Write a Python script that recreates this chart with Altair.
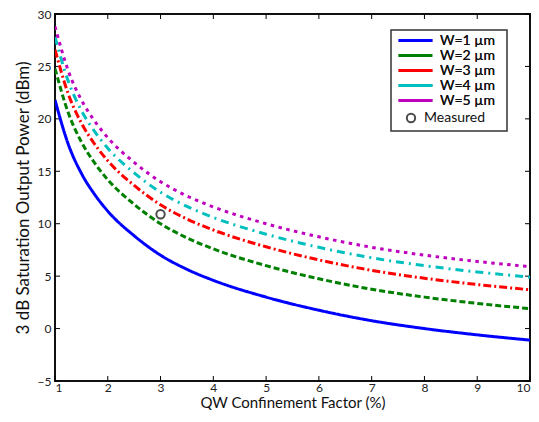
import altair as alt
import pandas as pd

x_vals = [1, 1.25, 1.5, 1.75, 2, 2.5, 3, 3.5, 4, 5, 6, 7, 8, 9, 10]
w1 = [21.8, 17.6, 14.8, 12.8, 11.2, 8.85, 7.0, 5.65, 4.6, 3.0, 1.75, 0.75, 0.0, -0.6, -1.1]
w2 = [24.8, 20.6, 17.8, 15.8, 14.2, 11.85, 10.0, 8.65, 7.6, 6.0, 4.75, 3.75, 3.0, 2.4, 1.9]
w3 = [26.6, 22.4, 19.6, 17.6, 16.0, 13.65, 11.8, 10.45, 9.4, 7.8, 6.55, 5.55, 4.8, 4.2, 3.7]
w4 = [27.8, 23.6, 20.8, 18.8, 17.2, 14.85, 13.0, 11.65, 10.6, 9.0, 7.75, 6.75, 6.0, 5.4, 4.9]
w5 = [28.8, 24.6, 21.8, 19.8, 18.2, 15.85, 14.0, 12.65, 11.6, 10.0, 8.75, 7.75, 7.0, 6.4, 5.9]

series_names = ["W=1 µm", "W=2 µm", "W=3 µm", "W=4 µm", "W=5 µm"]
series_colors = ["#0000ff", "#008000", "#ff0000", "#00bfbf", "#bf00bf"]
series_dashes = [[1, 0], [6, 3], [8, 3, 2, 3], [8, 5, 2, 5], [3.5, 4.5]]

measured_name = ["Measured"]
measured_x = [3.0]
measured_y = [10.9]

x_ticks = [1, 2, 3, 4, 5, 6, 7, 8, 9, 10]
y_ticks = [-5, 0, 5, 10, 15, 20, 25, 30]

W, H = 475, 367
FONT = "Lato"

rows = []
for name, ys in zip(series_names, [w1, w2, w3, w4, w5]):
    for xv, yv in zip(x_vals, ys):
        rows.append({"x": xv, "y": yv, "series": name})
lines_df = pd.DataFrame(rows)
meas_df = pd.DataFrame({"x": measured_x, "y": measured_y, "series": measured_name * len(measured_x)})
xt_df = pd.DataFrame({"t": x_ticks})
yt_df = pd.DataFrame({"t": y_ticks})

xscale = alt.Scale(domain=[1, 10], nice=False, zero=False)
yscale = alt.Scale(domain=[-5, 30], nice=False, zero=False)

color_scale = alt.Scale(domain=series_names, range=series_colors)
dash_scale = alt.Scale(domain=series_names, range=series_dashes)

line_legend = alt.Legend(
    title=None, orient="none", legendX=353, legendY=19,
    symbolType="M-2.83,0H2.83", symbolSize=144, symbolStrokeWidth=3,
    labelFont=FONT, labelFontSize=14, labelColor="#111111", labelFontWeight="normal",
    padding=0, rowPadding=0, labelOffset=17, symbolOffset=0,
)
shape_legend = alt.Legend(
    title=None, orient="none", legendX=349, legendY=97,
    symbolSize=70, symbolStrokeWidth=2, symbolStrokeColor="#000000",
    symbolFillColor="transparent",
    labelFont=FONT, labelFontSize=14, labelColor="#111111", labelFontWeight="normal",
    padding=0, labelOffset=6, symbolOffset=0,
)

axis_style = dict(
    tickSize=0, domain=False, grid=False,
    labelFont=FONT, labelFontSize=12, labelColor="#222222", labelFontWeight="normal",
    titleFont=FONT, titleFontWeight="normal", titleColor="#111111",
)
xaxis = alt.Axis(values=x_ticks, title="QW Confinement Factor (%)", labelPadding=1, titlePadding=2,
                 titleFontSize=15, **axis_style)
yaxis = alt.Axis(values=y_ticks, title="3 dB Saturation Output Power (dBm)", labelPadding=4, titlePadding=5,
                 titleFontSize=17, **axis_style)

lines = alt.Chart(lines_df).mark_line(strokeWidth=3, strokeCap="butt", clip=True, interpolate="monotone").encode(
    x=alt.X("x:Q", scale=xscale, axis=xaxis),
    y=alt.Y("y:Q", scale=yscale, axis=yaxis),
    color=alt.Color("series:N", scale=color_scale, legend=line_legend, sort=series_names),
    strokeDash=alt.StrokeDash("series:N", scale=dash_scale, legend=line_legend, sort=series_names),
    detail="series:N",
)

points = alt.Chart(meas_df).mark_point(size=70, strokeWidth=2, filled=False, color="#000000").encode(
    x=alt.X("x:Q", scale=xscale),
    y=alt.Y("y:Q", scale=yscale),
    shape=alt.Shape("series:N", scale=alt.Scale(domain=measured_name, range=["circle"]), legend=shape_legend),
)

legend_box = alt.Chart(meas_df).mark_rect(fill="#ffffff", stroke="#333333", strokeWidth=1.5).encode(
    x=alt.value(336), x2=alt.value(452), y=alt.value(16), y2=alt.value(117))

tick_len = 5
xb = alt.Chart(xt_df).mark_rule(color="#000000", strokeWidth=1).encode(
    x=alt.X("t:Q", scale=xscale), y=alt.value(H), y2=alt.value(H - tick_len))
xtp = alt.Chart(xt_df).mark_rule(color="#000000", strokeWidth=1).encode(
    x=alt.X("t:Q", scale=xscale), y=alt.value(0), y2=alt.value(tick_len))
yl = alt.Chart(yt_df).mark_rule(color="#000000", strokeWidth=1).encode(
    y=alt.Y("t:Q", scale=yscale), x=alt.value(0), x2=alt.value(tick_len))
yr = alt.Chart(yt_df).mark_rule(color="#000000", strokeWidth=1).encode(
    y=alt.Y("t:Q", scale=yscale), x=alt.value(W), x2=alt.value(W - tick_len))

chart = alt.layer(xb, xtp, yl, yr, lines, points, legend_box).resolve_legend(
    color="independent", shape="independent"
).properties(
    width=W, height=H,
    background="white",
    autosize=alt.AutoSizeParams(type="none"),
    padding={"left": 47, "top": 6, "right": 1, "bottom": 29},
).configure_view(
    stroke="#111111", strokeWidth=2
)

chart.save("out.html", embed_options={"renderer": "svg", "actions": False})
